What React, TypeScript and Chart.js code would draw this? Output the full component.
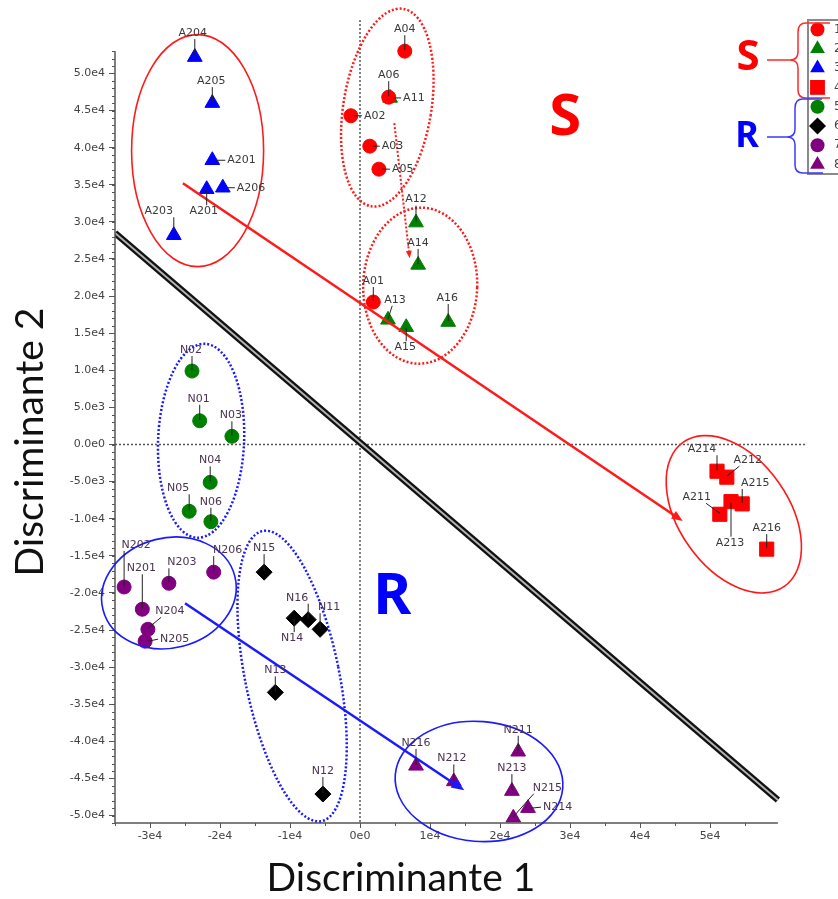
import React, { useEffect, useRef } from 'react';
import { Chart, registerables } from 'chart.js';

Chart.register(...registerables);

// ---------- data ----------
const seriesNames = ['1', '2', '3', '4', '5', '6', '7', '8'];

const s1Labels = ['A04', 'A06', 'A02', 'A03', 'A05', 'A01'];
const s1X = [6400, 4100, -1300, 1400, 2700, 1900];
const s1Y = [53000, 46800, 44300, 40200, 37100, 19200];

const s2Labels = ['A11', 'A12', 'A14', 'A13', 'A15', 'A16'];
const s2X = [4300, 8000, 8300, 4000, 6600, 12600];
const s2Y = [46700, 29900, 24200, 16800, 15800, 16500];

const s3Labels = ['A204', 'A205', 'A201', 'A201', 'A206', 'A203'];
const s3X = [-23600, -21100, -21100, -21900, -19600, -26600];
const s3Y = [52200, 46000, 38300, 34400, 34600, 28200];

const s4Labels = ['A214', 'A212', 'A215', 'A213', 'A211', 'A216'];
const s4X = [51000, 52400, 54600, 53000, 51400, 58100];
const s4Y = [-3600, -4400, -8000, -7700, -9400, -14100];

const s5Labels = ['N02', 'N01', 'N03', 'N04', 'N05', 'N06'];
const s5X = [-24000, -22900, -18300, -21400, -24400, -21300];
const s5Y = [9900, 3200, 1100, -5100, -9000, -10400];

const s6Labels = ['N15', 'N16', 'N14', 'N11', 'N13', 'N12'];
const s6X = [-13700, -7400, -9400, -5700, -12100, -5300];
const s6Y = [-17200, -23600, -23400, -24900, -33400, -47100];

const s7Labels = ['N202', 'N201', 'N203', 'N206', 'N204', 'N205'];
const s7X = [-33700, -31100, -27300, -20900, -30300, -30700];
const s7Y = [-19200, -22200, -18700, -17200, -24900, -26500];

const s8Labels = ['N216', 'N212', 'N211', 'N213', 'N214', 'N215'];
const s8X = [8000, 13400, 22600, 21700, 24000, 21900];
const s8Y = [-43300, -45400, -41400, -46700, -49000, -50300];

// separating line (discriminant boundary)
const boundaryX = [-35000, 59700];
const boundaryY = [28500, -47900];

// axis ticks
const xTickValues = [-30000, -20000, -10000, 0, 10000, 20000, 30000, 40000, 50000];
const yTickValues = [
  -50000, -45000, -40000, -35000, -30000, -25000, -20000, -15000, -10000, -5000, 0,
  5000, 10000, 15000, 20000, 25000, 30000, 35000, 40000, 45000, 50000,
];

// ---------- styling / placement (kept separate from data) ----------
const seriesColors = ['#ff0000', '#008000', '#0000ff', '#ff0000', '#008000', '#000000', '#800080', '#800080'];
const seriesShapes = ['circle', 'triangle', 'triangle', 'rect', 'circle', 'rectRot', 'circle', 'triangle'];
const seriesRadius = [7, 8.5, 8.5, 10, 7, 8, 7, 8.5];

type LP = [number, number, string];
const labelPlacement: LP[][] = [
  [[0, -22, 'v'], [0, -22, 'v'], [13, 0, 'h'], [12, 0, 'h'], [13, 0, 'h'], [0, -21, 'v']],
  [[13, 0, 'h'], [0, -23, 'v'], [0, -22, 'v'], [7, -20, 'd'], [-1, 20, 'v'], [-1, -24, 'v']],
  [[-2, -24, 'v'], [-1, -22, 'v'], [15, 0, 'h'], [-3, 22, 'v'], [14, 0, 'h'], [-15, -24, 'v']],
  [[-15, -22, 'v'], [21, -17, 'd'], [13, -21, 'v'], [-1, 41, 'v'], [-23, -17, 'd'], [0, -21, 'v']],
  [[-1, -21, 'v'], [-1, -22, 'v'], [-1, -21, 'v'], [0, -22, 'v'], [-11, -23, 'v'], [0, -20, 'v']],
  [[0, -24, 'v'], [-11, -22, 'v'], [-2, 20, 'v'], [9, -22, 'v'], [0, -22, 'v'], [0, -23, 'v']],
  [[12, -42, 'v'], [-1, -41, 'v'], [13, -21, 'v'], [14, -22, 'v'], [22, -18, 'd'], [15, -2, 'h']],
  [[0, -23, 'v'], [-2, -23, 'v'], [0, -22, 'v'], [0, -23, 'v'], [15, -1, 'h'], [34, -30, 'd']],
];

const RED = '#ff1a1a';
const BLUE = '#1a1aff';

const ellipses = [
  { cx: -23200, cy: 39600, rx: 66, ry: 116, rot: 0, color: RED, dotted: false },
  { cx: 3900, cy: 45400, rx: 44, ry: 100, rot: 0.16, color: RED, dotted: true },
  { cx: 8600, cy: 21400, rx: 57, ry: 78, rot: 0.03, color: RED, dotted: true },
  { cx: 53400, cy: -9400, rx: 88, ry: 55, rot: 0.96, color: RED, dotted: false },
  { cx: -22700, cy: 500, rx: 43, ry: 97, rot: 0.04, color: BLUE, dotted: true },
  { cx: -27300, cy: -20000, rx: 68, ry: 55, rot: -0.25, color: BLUE, dotted: false },
  { cx: -9700, cy: -31200, rx: 47, ry: 148, rot: -0.2, color: BLUE, dotted: true },
  { cx: 17000, cy: -45400, rx: 84, ry: 60, rot: 0.08, color: BLUE, dotted: false },
];

const arrows = [
  { x1: -25300, y1: 35200, x2: 46100, y2: -10300, color: RED, width: 2.5, dotted: false, head: 12 },
  { x1: 4900, y1: 43300, x2: 7100, y2: 25100, color: RED, width: 2, dotted: true, head: 8 },
  { x1: -25000, y1: -21400, x2: 14900, y2: -46600, color: BLUE, width: 2.5, dotted: false, head: 14 },
];

const bigLetters = [
  { text: 'S', x: 29300, y: 43900, color: '#ff0000', size: 58 },
  { text: 'R', x: 4600, y: -20600, color: '#0000ff', size: 58 },
];

const allX = [s1X, s2X, s3X, s4X, s5X, s6X, s7X, s8X];
const allY = [s1Y, s2Y, s3Y, s4Y, s5Y, s6Y, s7Y, s8Y];
const allLabels = [s1Labels, s2Labels, s3Labels, s4Labels, s5Labels, s6Labels, s7Labels, s8Labels];

const fmtY = (v: number) => v.toExponential(1).replace('e+', 'e');
const fmtX = (v: number) => v.toExponential(0).replace('e+', 'e');

function drawShape(ctx: CanvasRenderingContext2D, shape: string, x: number, y: number, r: number, color: string) {
  ctx.fillStyle = color;
  ctx.beginPath();
  if (shape === 'circle') {
    ctx.arc(x, y, r, 0, Math.PI * 2);
  } else if (shape === 'triangle') {
    ctx.moveTo(x, y - r);
    ctx.lineTo(x + r * 0.866, y + r * 0.5);
    ctx.lineTo(x - r * 0.866, y + r * 0.5);
    ctx.closePath();
  } else if (shape === 'rect') {
    const s = r * 0.707;
    ctx.rect(x - s, y - s, 2 * s, 2 * s);
  } else {
    ctx.moveTo(x, y - r);
    ctx.lineTo(x + r, y);
    ctx.lineTo(x, y + r);
    ctx.lineTo(x - r, y);
    ctx.closePath();
  }
  ctx.fill();
}

const decorPlugin = {
  id: 'decor',
  beforeDatasetsDraw(chart: any) {
    const { ctx, chartArea: a, scales } = chart;
    const xs = scales.x, ys = scales.y;
    ctx.save();
    ctx.strokeStyle = '#555';
    ctx.lineWidth = 1.5;
    ctx.setLineDash([2, 2]);
    const x0 = xs.getPixelForValue(0);
    const y0 = ys.getPixelForValue(0);
    ctx.beginPath();
    ctx.moveTo(x0, a.top);
    ctx.lineTo(x0, a.bottom);
    ctx.moveTo(a.left, y0);
    ctx.lineTo(a.right, y0);
    ctx.stroke();
    ctx.restore();
  },
  afterDatasetsDraw(chart: any) {
    const { ctx, chartArea: a, scales } = chart;
    const xs = scales.x, ys = scales.y;
    ctx.save();

    // axes lines + minor ticks
    ctx.strokeStyle = '#555';
    ctx.lineWidth = 1.5;
    ctx.setLineDash([]);
    const yTop = ys.getPixelForValue(53000);
    const xRight = xs.getPixelForValue(59700);
    ctx.beginPath();
    ctx.moveTo(a.left, yTop);
    ctx.lineTo(a.left, a.bottom);
    ctx.lineTo(xRight, a.bottom);
    ctx.stroke();
    ctx.lineWidth = 1;
    ctx.beginPath();
    for (let v = -51000; v <= 53000; v += 1000) {
      const py = Math.round(ys.getPixelForValue(v)) + 0.5;
      ctx.moveTo(a.left - 3, py);
      ctx.lineTo(a.left, py);
    }
    for (let v = -35000; v <= 59000; v += 5000) {
      const px = Math.round(xs.getPixelForValue(v)) + 0.5;
      ctx.moveTo(px, a.bottom);
      ctx.lineTo(px, a.bottom + 3);
    }
    ctx.stroke();

    // ellipses
    ellipses.forEach((e) => {
      const cx = xs.getPixelForValue(e.cx);
      const cy = ys.getPixelForValue(e.cy);
      ctx.strokeStyle = e.color;
      ctx.lineWidth = e.dotted ? 2.5 : 1.6;
      ctx.setLineDash(e.dotted ? [2, 2] : []);
      ctx.beginPath();
      ctx.ellipse(cx, cy, e.rx, e.ry, e.rot, 0, Math.PI * 2);
      ctx.stroke();
    });

    // arrows
    arrows.forEach((r) => {
      const x1 = xs.getPixelForValue(r.x1), y1 = ys.getPixelForValue(r.y1);
      const x2 = xs.getPixelForValue(r.x2), y2 = ys.getPixelForValue(r.y2);
      const ang = Math.atan2(y2 - y1, x2 - x1);
      ctx.strokeStyle = r.color;
      ctx.fillStyle = r.color;
      ctx.lineWidth = r.width;
      ctx.setLineDash(r.dotted ? [2, 2] : []);
      ctx.beginPath();
      ctx.moveTo(x1, y1);
      ctx.lineTo(x2 - Math.cos(ang) * r.head * 0.6, y2 - Math.sin(ang) * r.head * 0.6);
      ctx.stroke();
      ctx.setLineDash([]);
      ctx.beginPath();
      ctx.moveTo(x2, y2);
      ctx.lineTo(x2 - r.head * Math.cos(ang - 0.38), y2 - r.head * Math.sin(ang - 0.38));
      ctx.lineTo(x2 - r.head * Math.cos(ang + 0.38), y2 - r.head * Math.sin(ang + 0.38));
      ctx.closePath();
      ctx.fill();
    });

    // point labels with leader lines
    ctx.setLineDash([]);
    ctx.font = "11px 'DejaVu Sans'";
    ctx.textBaseline = 'middle';
    allLabels.forEach((labels, si) => {
      const meta = chart.getDatasetMeta(si);
      const isN = si >= 4;
      meta.data.forEach((el: any, i: number) => {
        const [dx, dy, t] = labelPlacement[si][i];
        const px = el.x, py = el.y;
        ctx.strokeStyle = '#222';
        ctx.lineWidth = 1;
        ctx.beginPath();
        if (t === 'h') {
          ctx.moveTo(px + 3, py);
          ctx.lineTo(px + dx - 2, py + dy);
          ctx.textAlign = 'left';
        } else {
          const ey = py + dy + (dy < 0 ? 6 : -6);
          const ex = t === 'd' ? px + dx * 0.6 : px;
          ctx.moveTo(ex, ey);
          ctx.lineTo(px, py + (dy < 0 ? -1 : 1));
          ctx.textAlign = 'center';
        }
        ctx.stroke();
        ctx.fillStyle = isN ? '#4a3352' : '#3a3a3a';
        ctx.fillText(labels[i], px + dx, py + dy);
      });
    });

    // big S / R
    bigLetters.forEach((b) => {
      ctx.font = `bold ${b.size}px 'Noto Sans'`;
      ctx.fillStyle = b.color;
      ctx.textAlign = 'center';
      ctx.textBaseline = 'middle';
      ctx.fillText(b.text, xs.getPixelForValue(b.x), ys.getPixelForValue(b.y));
    });

    // legend box
    const lx = 808, ly = 20, lh = 154;
    ctx.fillStyle = '#ffffff';
    ctx.fillRect(lx, ly, 40, lh);
    ctx.strokeStyle = '#8a8a8a';
    ctx.lineWidth = 2;
    ctx.strokeRect(lx, ly, 40, lh);
    ctx.font = "12px 'DejaVu Sans'";
    ctx.textAlign = 'left';
    ctx.textBaseline = 'middle';
    seriesNames.forEach((n, i) => {
      const yy = ly + 9.5 + i * 19.3;
      drawShape(ctx, seriesShapes[i], lx + 9.5, yy, seriesShapes[i] === 'rect' ? 10.5 : seriesShapes[i] === 'circle' ? 7 : 8.5, seriesColors[i]);
      ctx.fillStyle = '#444';
      ctx.fillText(n, lx + 26, yy);
    });

    // braces + S / R labels near legend
    ctx.lineWidth = 1.5;
    ctx.strokeStyle = '#ff2a2a';
    ctx.beginPath();
    ctx.moveTo(830, 23);
    ctx.lineTo(806, 23);
    ctx.quadraticCurveTo(798, 23, 798, 32);
    ctx.lineTo(798, 52);
    ctx.quadraticCurveTo(798, 60, 790, 60);
    ctx.quadraticCurveTo(798, 60, 798, 68);
    ctx.lineTo(798, 90);
    ctx.quadraticCurveTo(798, 98, 806, 98);
    ctx.lineTo(830, 98);
    ctx.moveTo(767, 60);
    ctx.lineTo(790, 60);
    ctx.stroke();
    ctx.strokeStyle = '#3a3aff';
    ctx.beginPath();
    ctx.moveTo(822, 99);
    ctx.lineTo(803, 99);
    ctx.quadraticCurveTo(795, 99, 795, 108);
    ctx.lineTo(795, 129);
    ctx.quadraticCurveTo(795, 137, 787, 137);
    ctx.quadraticCurveTo(795, 137, 795, 145);
    ctx.lineTo(795, 165);
    ctx.quadraticCurveTo(795, 173, 803, 173);
    ctx.lineTo(823, 173);
    ctx.moveTo(767, 137);
    ctx.lineTo(787, 137);
    ctx.stroke();
    ctx.textAlign = 'center';
    ctx.textBaseline = 'middle';
    ctx.font = "bold 42px 'Noto Sans'";
    ctx.fillStyle = '#ff0000';
    ctx.fillText('S', 748, 58);
    ctx.font = "bold 36px 'Noto Sans'";
    ctx.fillStyle = '#0000ff';
    ctx.fillText('R', 747, 137);

    // axis titles
    ctx.fillStyle = '#111';
    ctx.font = "39px 'Lato'";
    ctx.textAlign = 'center';
    ctx.textBaseline = 'middle';
    ctx.fillText('Discriminante 1', 401, 878);
    ctx.save();
    ctx.translate(30, 442);
    ctx.rotate(-Math.PI / 2);
    ctx.fillText('Discriminante 2', 0, 0);
    ctx.restore();

    ctx.restore();
  },
};

export default function App() {
  const ref = useRef<HTMLCanvasElement>(null);
  useEffect(() => {
    document.body.style.margin = '0';
    const datasets: any[] = allX.map((xsArr, si) => ({
      label: seriesNames[si],
      data: xsArr.map((x, i) => ({ x, y: allY[si][i] })),
      pointStyle: seriesShapes[si],
      pointRadius: seriesRadius[si],
      backgroundColor: seriesColors[si],
      borderColor: seriesColors[si],
      borderWidth: 1,
      showLine: false,
      order: 1,
    }));
    datasets.push({
      label: 'boundary-core',
      data: boundaryX.map((x, i) => ({ x, y: boundaryY[i] })),
      showLine: true,
      pointRadius: 0,
      borderColor: '#b4b4b4',
      borderWidth: 1.8,
      order: 5,
    });
    datasets.push({
      label: 'boundary',
      data: boundaryX.map((x, i) => ({ x, y: boundaryY[i] })),
      showLine: true,
      pointRadius: 0,
      borderColor: '#111111',
      borderWidth: 6.5,
      order: 6,
    });
    const chart = new Chart(ref.current as HTMLCanvasElement, {
      type: 'scatter',
      data: { datasets },
      options: {
        responsive: false,
        devicePixelRatio: 1,
        animation: false,
        events: [],
        layout: { padding: { top: 20, right: 33, left: 0, bottom: 0 } },
        plugins: { legend: { display: false }, tooltip: { enabled: false }, title: { display: false } },
        scales: {
          x: {
            type: 'linear',
            min: -35000,
            max: 63570,
            afterBuildTicks: (s: any) => { s.ticks = xTickValues.map((v) => ({ value: v })); },
            afterFit: (s: any) => { s.height = 76; },
            ticks: {
              autoSkip: false,
              maxRotation: 0,
              padding: 2,
              color: '#444',
              font: { family: 'DejaVu Sans', size: 11 },
              callback: (v: any) => fmtX(Number(v)),
            },
            grid: { display: true, drawOnChartArea: false, drawTicks: true, tickLength: 5, color: '#555' },
            border: { display: false },
          },
          y: {
            type: 'linear',
            min: -51000,
            max: 57200,
            afterBuildTicks: (s: any) => { s.ticks = yTickValues.map((v) => ({ value: v })); },
            afterFit: (s: any) => { s.width = 115; },
            ticks: {
              autoSkip: false,
              padding: 4,
              color: '#444',
              font: { family: 'DejaVu Sans', size: 11 },
              callback: (v: any) => fmtY(Number(v)),
            },
            grid: { display: true, drawOnChartArea: false, drawTicks: true, tickLength: 6, color: '#555' },
            border: { display: false },
          },
        },
      } as any,
      plugins: [decorPlugin],
    });
    return () => chart.destroy();
  }, []);
  return (
    <div style={{ width: 838, height: 899, position: 'relative', background: '#fff' }}>
      <canvas ref={ref} width={838} height={899} style={{ display: 'block', width: 838, height: 899 }} />
    </div>
  );
}
